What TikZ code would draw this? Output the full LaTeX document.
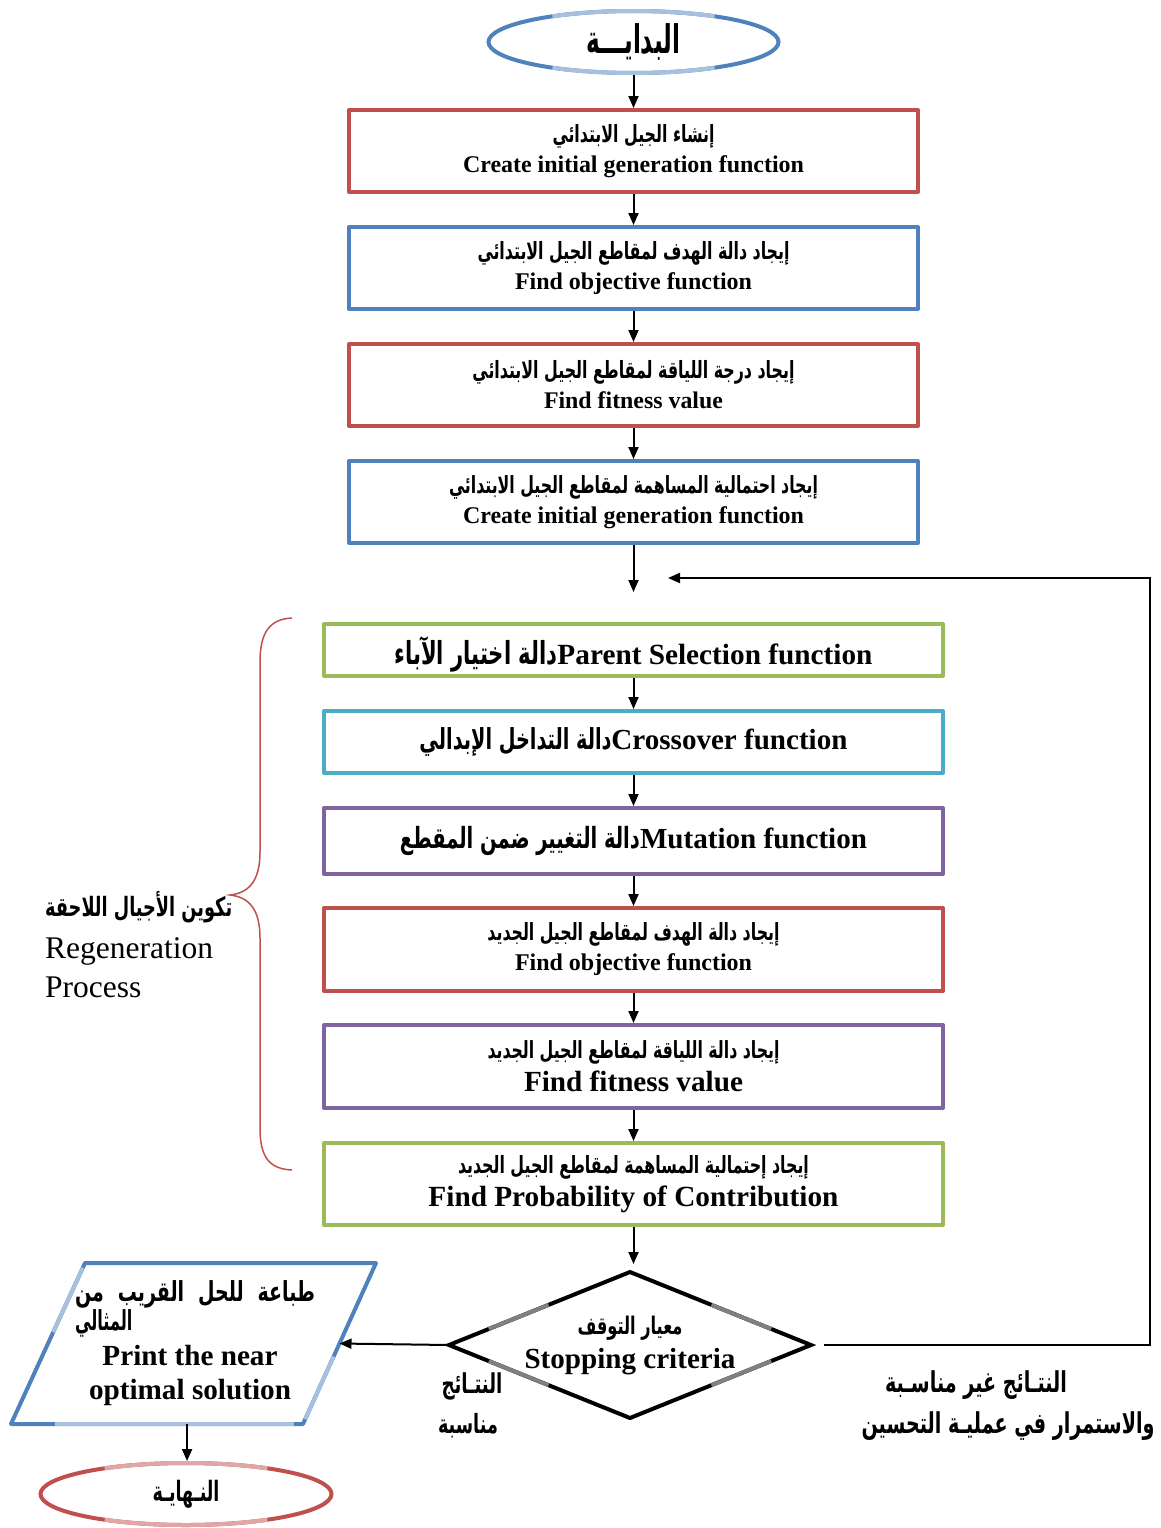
\documentclass[tikz,border=0pt]{standalone}
\usepackage{fontspec}
\usepackage{graphicx}
\setmainfont{Liberation Serif}
\newfontfamily\arabicfont[Script=Arabic]{DejaVu Sans}
\TeXXeTstate=1
\usetikzlibrary{arrows.meta,shapes.geometric,calc}
\definecolor{cblue}{RGB}{79,129,189}
\definecolor{cred}{RGB}{192,80,77}
\definecolor{cgreen}{RGB}{155,187,89}
\definecolor{ccyan}{RGB}{75,172,198}
\definecolor{cpurple}{RGB}{128,100,162}
\definecolor{cgrey}{RGB}{128,128,128}
\newcommand\artx[3][1.5]{\scalebox{1}[#1]{\resizebox{#2pt}{!}{\arabicfont\bfseries #3}}}
\newcommand\entx[2]{\resizebox{#1pt}{!}{\bfseries #2}}
\tikzset{
  box/.style={draw, line width=4pt, line join=round, fill=white, minimum width=569pt, minimum height=82pt, inner sep=0pt, align=center, font=\fontsize{20}{30}\selectfont},
  wbox/.style={box, minimum width=619pt},
  arr/.style={-{Triangle[length=12pt,width=10pt]}, line width=2pt},
  term/.style={ellipse, draw, line width=4pt, minimum width=290pt, minimum height=62pt, inner sep=0pt},
  lbl/.style={inner sep=0pt, align=center},
}
\begin{document}
\begin{tikzpicture}[x=1pt,y=-1pt]
\useasboundingbox (0,0) rectangle (1160,1528);
% start
\node[term, draw=cblue] (st) at (633.5,42) {\raisebox{-3pt}{\artx[1.7]{94}{\beginR البدايـــة\endR}}};
\draw[cblue!50, line width=4pt] (633.5,42) ++(56:145 and 31) arc[start angle=56, end angle=124, x radius=145, y radius=31];
\draw[cblue!50, line width=4pt] (633.5,42) ++(-56:145 and 31) arc[start angle=-56, end angle=-124, x radius=145, y radius=31];
% initial boxes
\node[box, draw=cred] (b1) at (633.5,151) {\artx{162}{\beginR إنشاء الجيل الابتدائي\endR}\\\entx{341}{Create initial generation function}};
\node[box, draw=cblue] (b2) at (633.5,268) {\artx{312}{\beginR إيجاد دالة الهدف لمقاطع الجيل الابتدائي\endR}\\\entx{237}{Find objective function}};
\node[box, draw=cred] (b3) at (633.5,385) {\artx{322}{\beginR إيجاد درجة اللياقة لمقاطع الجيل الابتدائي\endR}\\\entx{179}{Find fitness value}};
\node[box, draw=cblue] (b4) at (633.5,502) {\artx{369}{\beginR إيجاد احتمالية المساهمة لمقاطع الجيل الابتدائي\endR}\\\entx{341}{Create initial generation function}};
\coordinate (j) at (633.5,592);
\coordinate (ret) at (668,578);
% regeneration boxes
\node[wbox, draw=cgreen, minimum height=52pt, text height=28pt, text depth=0pt] (b5) at (633.5,650) {\artx{163}{\beginR دالة اختيار الآباء\endR}\entx{315}{Parent Selection function}};
\node[wbox, draw=ccyan, minimum height=62pt] (b6) at (633.5,742) {\artx{192}{\beginR دالة التداخل الإبدالي\endR}\entx{236}{Crossover function}};
\node[wbox, draw=cpurple, minimum height=66pt] (b7) at (633.5,841) {\artx{240}{\beginR دالة التغيير ضمن المقطع\endR}\entx{227}{Mutation function}};
\node[wbox, draw=cred, minimum height=83pt] (b8) at (633.5,949.5) {\artx{292}{\beginR إيجاد دالة الهدف لمقاطع الجيل الجديد\endR}\\\entx{237}{Find objective function}};
\node[wbox, draw=cpurple, minimum height=83pt, font=\fontsize{20}{33}\selectfont] (b9) at (633.5,1066.5) {\artx{292}{\beginR إيجاد دالة اللياقة لمقاطع الجيل الجديد\endR}\\\entx{219}{Find fitness value}};
\node[wbox, draw=cgreen, minimum height=82pt, font=\fontsize{20}{33}\selectfont] (b10) at (633.5,1184) {\artx{351}{\beginR إيجاد إحتمالية المساهمة لمقاطع الجيل الجديد\endR}\\\entx{410}{Find Probability of Contribution}};
% decision
\node[diamond, draw, line width=4pt, outer sep=0pt, aspect=2.46, minimum width=362pt, minimum height=146pt, inner sep=0pt, align=center, font=\fontsize{20}{34}\selectfont] (dia) at (630,1345) {\artx{105}{\beginR معيار التوقف\endR}\\\entx{211}{Stopping criteria}};
\foreach \s/\t in {west/north, west/south, east/north, east/south}{
  \draw[cgrey, line width=4pt] ($(dia.\s)!0.22!(dia.\t)$) -- ($(dia.\s)!0.55!(dia.\t)$);
}
% output parallelogram
\coordinate (p1) at (85,1263);
\coordinate (p2) at (376,1263);
\coordinate (p3) at (303,1424);
\coordinate (p4) at (11,1424);
\draw[cblue, line width=4pt, line join=round] (p1) -- (p2) -- (p3) -- (p4) -- cycle;
\draw[cblue!50, line width=4pt] ($(p1)!0.03!(p4)$) -- ($(p1)!0.43!(p4)$);
\draw[cblue!50, line width=4pt] ($(p4)!0.15!(p3)$) -- ($(p4)!0.97!(p3)$);
\draw[cblue!50, line width=4pt] ($(p2)!0.58!(p3)$) -- ($(p2)!0.97!(p3)$);
\coordinate (pR) at ($(p2)!0.5!(p3)$);
\coordinate (pB) at ($(p4)!0.603!(p3)$);
\node[lbl, font=\arabicfont\bfseries\fontsize{19}{29}\selectfont, align=left] (prA) at (195,1309) {\scalebox{1}[1.45]{\hbox to 240pt{\beginR طباعة\hfill للحل\hfill القريب\hfill من\endR}}\\\scalebox{0.85}[1.45]{\hbox{\beginR المثالي\endR}}};
\node[lbl, font=\fontsize{20}{34}\selectfont] (prE) at (190,1375) {\entx{175}{Print the near}\\\entx{202}{optimal solution}};
% end
\node[term, draw=cred, minimum width=291pt] (en) at (186,1494) {\artx[1.6]{67}{\beginR النـهايـة\endR}};
\draw[cred!50, line width=4pt] (186,1494) ++(56:145.5 and 31) arc[start angle=56, end angle=124, x radius=145.5, y radius=31];
\draw[cred!50, line width=4pt] (186,1494) ++(-56:145.5 and 31) arc[start angle=-56, end angle=-124, x radius=145.5, y radius=31];
% connectors
\draw[arr] (st) -- (b1);
\draw[arr] (b1) -- (b2);
\draw[arr] (b2) -- (b3);
\draw[arr] (b3) -- (b4);
\draw[arr] (b4) -- (j);
\draw[arr] (b5) -- (b6);
\draw[arr] (b6) -- (b7);
\draw[arr] (b7) -- (b8);
\draw[arr] (b8) -- (b9);
\draw[arr] (b9) -- (b10);
\draw[arr, shorten >=8pt] (b10.south) -- (b10.south |- dia.north);
\draw[arr, shorten <=-5pt] (dia.west) -- (pR);
\draw[arr] (pB) -- (pB |- en.north);
\draw[arr, shorten <=13pt] (dia.east) -- (1150,1345) |- (ret);
% brace
\draw[cred, line width=1.5pt] (292,618) .. controls (270,619) and (260,632) .. (260,662) -- (260,852) .. controls (260,882) and (248,893) .. (230,895) .. controls (248,897) and (260,908) .. (260,938) -- (260,1128) .. controls (260,1158) and (270,1169) .. (292,1170);
\node[lbl, anchor=west, align=left, font=\fontsize{31.5}{39}\selectfont] (regen) at (45,945) {\raisebox{3pt}{\artx{187}{\beginR تكوين الأجيال اللاحقة\endR}}\\Regeneration\\Process};
% condition labels
\node[lbl] (ok1) at (472,1386) {\artx{61}{\beginR النتـائج\endR}};
\node[lbl] (ok2) at (468,1426) {\artx{60}{\beginR مناسبة\endR}};
\node[lbl] (nf1) at (976,1385) {\artx{182}{\beginR النتـائج غير مناسـبة\endR}};
\node[lbl] (nf2) at (1008,1426) {\artx{293}{\beginR والاستمرار في عمليـة التحسين\endR}};
\end{tikzpicture}
\end{document}
